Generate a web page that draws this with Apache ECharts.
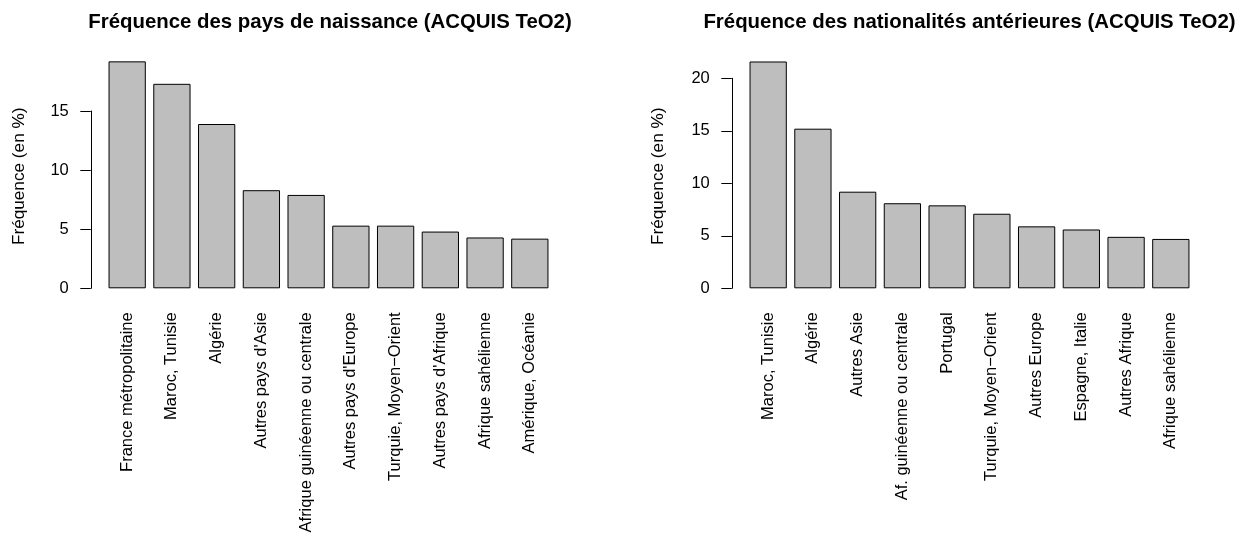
<!DOCTYPE html>
<html>
<head>
<meta charset="utf-8">
<script src="https://cdn.jsdelivr.net/npm/echarts@6/dist/echarts.min.js"></script>
<style>
html,body{margin:0;padding:0;background:#fff;}
#c{width:1248px;height:546px;}
</style>
</head>
<body>
<div id="c"></div>
<script>
// Left panel: pays de naissance
const titleLeft = "Fréquence des pays de naissance (ACQUIS TeO2)";
const categoriesLeft = ["France métropolitaine","Maroc, Tunisie","Algérie","Autres pays d'Asie","Afrique guinéenne ou centrale","Autres pays d'Europe","Turquie, Moyen\u2212Orient","Autres pays d'Afrique","Afrique sahélienne","Amérique, Océanie"];
const valuesLeft = [19.2, 17.3, 13.9, 8.3, 7.9, 5.3, 5.3, 4.8, 4.3, 4.2];
const ticksLeft = [0, 5, 10, 15];

// Right panel: nationalités antérieures
const titleRight = "Fréquence des nationalités antérieures (ACQUIS TeO2)";
const categoriesRight = ["Maroc, Tunisie","Algérie","Autres Asie","Af. guinéenne ou centrale","Portugal","Turquie, Moyen\u2212Orient","Autres Europe","Espagne, Italie","Autres Afrique","Afrique sahélienne"];
const valuesRight = [21.6, 15.2, 9.2, 8.1, 7.9, 7.1, 5.9, 5.6, 4.9, 4.7];
const ticksRight = [0, 5, 10, 15, 20];

const yLabel = "Fréquence (en %)";

const FONT = "'Liberation Sans', Arial, Helvetica, sans-serif";
const chart = echarts.init(document.getElementById('c'), null, {renderer: 'canvas'});

function xAxisDef(idx, cats) {
  return {
    type: 'category', gridIndex: idx, data: cats,
    axisLine: {show: false}, axisTick: {show: false},
    axisLabel: {rotate: 90, interval: 0, margin: 24, color: '#000', fontSize: 16.5, fontFamily: FONT}
  };
}
function yAxisDef(idx, ticks) {
  return {
    type: 'value', gridIndex: idx, min: ticks[0], max: ticks[ticks.length - 1], interval: 5,
    offset: 14,
    splitLine: {show: false},
    axisLine: {show: true, lineStyle: {color: '#000', width: 1}},
    axisTick: {show: true, length: 10.5, lineStyle: {color: '#000', width: 1}},
    axisLabel: {margin: 22, color: '#000', fontSize: 16.5, fontFamily: FONT}
  };
}
function barSeries(idx, vals) {
  return {
    type: 'bar', xAxisIndex: idx, yAxisIndex: idx, data: vals,
    barCategoryGap: '16.7%', clip: false, silent: true,
    itemStyle: {color: '#BEBEBE', borderColor: '#000', borderWidth: 1},
    animation: false
  };
}
function yName(x, y) {
  return {
    type: 'text', x: x, y: y, rotation: Math.PI / 2, silent: true,
    style: {text: yLabel, fill: '#000', font: "17.2px 'Liberation Sans', Arial, sans-serif",
            textAlign: 'center', textVerticalAlign: 'middle'}
  };
}

chart.setOption({
  animation: false,
  backgroundColor: '#fff',
  title: [
    {text: titleLeft, left: 325, top: 7, textAlign: 'center',
     textStyle: {fontSize: 20.4, fontWeight: 'bold', color: '#000', fontFamily: FONT}},
    {text: titleRight, left: 964.5, top: 7, textAlign: 'center',
     textStyle: {fontSize: 20.4, fontWeight: 'bold', color: '#000', fontFamily: FONT}}
  ],
  grid: [
    {left: 104.8, width: 447.4, top: 111, bottom: 257.7, containLabel: false},
    {left: 745.8, width: 447.4, top: 78.3, bottom: 257.7, containLabel: false}
  ],
  xAxis: [xAxisDef(0, categoriesLeft), xAxisDef(1, categoriesRight)],
  yAxis: [yAxisDef(0, ticksLeft), yAxisDef(1, ticksRight)],
  series: [barSeries(0, valuesLeft), barSeries(1, valuesRight)],
  graphic: [yName(19.5, 176.3), yName(658.5, 176.3)]
});
</script>
</body>
</html>
